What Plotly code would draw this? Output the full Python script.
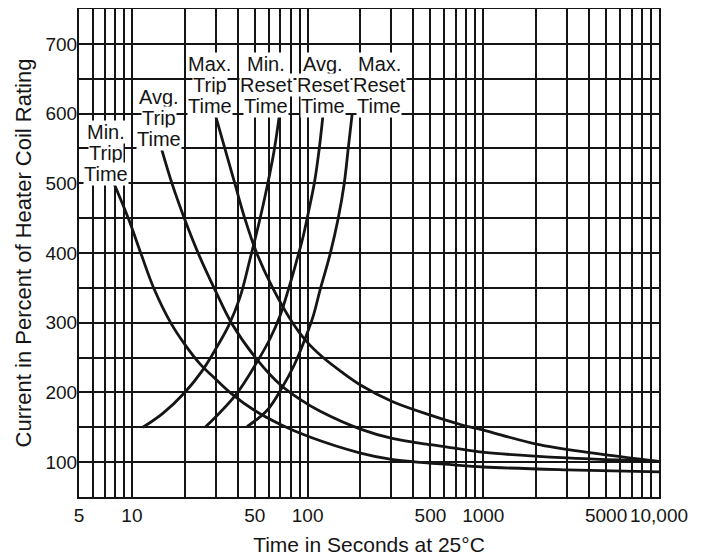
import math
import plotly.graph_objects as go

# curves: time in seconds (log axis) vs current in % of heater rating
min_trip_t = [7.9, 9.6, 11.3, 13.4, 16.8, 20, 24.4, 30, 37, 50, 70, 103, 200, 300, 680, 1000, 3000, 10000]
min_trip_i = [500, 448, 398, 348, 298, 269, 241, 219, 198, 174, 154, 136, 113, 104, 96, 93, 89, 86]

avg_trip_t = [14.8, 17, 20, 24, 30, 37, 52, 70, 90.6, 118, 202, 303, 500, 684, 1014, 3013, 10000]
avg_trip_i = [548, 498, 448, 398, 345, 299, 246, 211, 190, 173, 147, 134, 125, 120, 114, 106, 101]

max_trip_t = [29.7, 33.9, 38.6, 44, 51.5, 63.6, 82.6, 98, 122.5, 157, 202, 303, 505, 740, 1000, 2005, 4240, 10000]
max_trip_i = [600, 549, 499, 449, 399, 349, 299, 274, 250, 229, 210, 187, 167, 154, 146, 126, 113, 101]

min_reset_t = [11.55, 15, 20, 25.1, 30.1, 35.7, 41.3, 47, 52.9, 58.7, 64.4, 69.3]
min_reset_i = [150, 170, 200, 231, 263, 297, 337, 391, 443, 494, 546, 600]

avg_reset_t = [26.1, 39.1, 52.2, 61.1, 69.7, 77.4, 86, 94.2, 102, 109.7, 116.4, 122.6]
avg_reset_i = [150, 197, 246, 277, 310, 346, 386, 423, 463, 503, 549, 600]

max_reset_t = [45.2, 58.7, 71.6, 83.8, 96.8, 107.5, 117.8, 134.2, 149.2, 161.5, 170.2, 179.4]
max_reset_i = [151, 174, 207, 239, 277, 309, 347, 398, 449, 499, 549, 600]

curves = [
    (min_trip_t, min_trip_i),
    (avg_trip_t, avg_trip_i),
    (max_trip_t, max_trip_i),
    (min_reset_t, min_reset_i),
    (avg_reset_t, avg_reset_i),
    (max_reset_t, max_reset_i),
]

# curve labels (three lines each)
label_lines = [
    ["Min.", "Trip", "Time"],
    ["Avg.", "Trip", "Time"],
    ["Max.", "Trip", "Time"],
    ["Min.", "Reset", "Time"],
    ["Avg.", "Reset", "Time"],
    ["Max.", "Reset", "Time"],
]
label_x = [7.1, 14.2, 27.8, 58, 122.6, 256]
label_top = [573, 624, 671, 671, 671, 671]

# axis ticks
x_grid = [m * 10 ** d for d in range(0, 4) for m in range(1, 10)] + [10000]
x_grid = [v for v in x_grid if v >= 5]
x_labels = {5: "5", 10: "10", 50: "50", 100: "100", 500: "500",
            1000: "1000", 5000: "5000", 10000: "10,000"}
y_grid = list(range(50, 751, 50))

ink = "#151515"
font = "Liberation Sans, Arial, sans-serif"

fig = go.Figure()
for t, i in curves:
    fig.add_trace(go.Scatter(x=t, y=i, mode="lines",
                             line=dict(color=ink, width=2.8, shape="spline", smoothing=1),
                             hoverinfo="skip", showlegend=False))

# annotations on a log axis take log10 positions
for lines, lx, ly in zip(label_lines, label_x, label_top):
    for k, txt in enumerate(lines):
        fig.add_annotation(x=math.log10(lx), y=ly - 30 * k, xref="x", yref="y", text=txt,
                           showarrow=False, bgcolor="white", borderpad=0,
                           font=dict(size=20, color=ink, family=font))

fig.update_xaxes(type="log", range=[math.log10(5), 4],
                 tickvals=x_grid,
                 ticktext=[x_labels.get(v, "") for v in x_grid],
                 showgrid=True, gridcolor=ink, gridwidth=1.8,
                 showline=True, linecolor=ink, linewidth=2, mirror=True,
                 ticks="", zeroline=False,
                 tickfont=dict(size=19, color=ink, family=font),
                 title=dict(text="Time in Seconds at 25°C", standoff=13,
                            font=dict(size=21, color=ink, family=font)))
fig.update_yaxes(range=[50, 750],
                 tickvals=y_grid,
                 ticktext=[str(v) if v % 100 == 0 and v < 750 else "" for v in y_grid],
                 showgrid=True, gridcolor=ink, gridwidth=1.8,
                 showline=True, linecolor=ink, linewidth=2, mirror=True,
                 ticks="", zeroline=False, ticklabelstandoff=-4,
                 tickfont=dict(size=19, color=ink, family=font),
                 title=dict(text="Current in Percent of Heater Coil Rating", standoff=8,
                            font=dict(size=22, color=ink, family=font)))

fig.update_layout(width=698, height=548,
                  margin=dict(l=71, r=47, t=1, b=59, autoexpand=False),
                  paper_bgcolor="white", plot_bgcolor="white",
                  font=dict(family=font, color=ink))

fig.write_html("out.html")
